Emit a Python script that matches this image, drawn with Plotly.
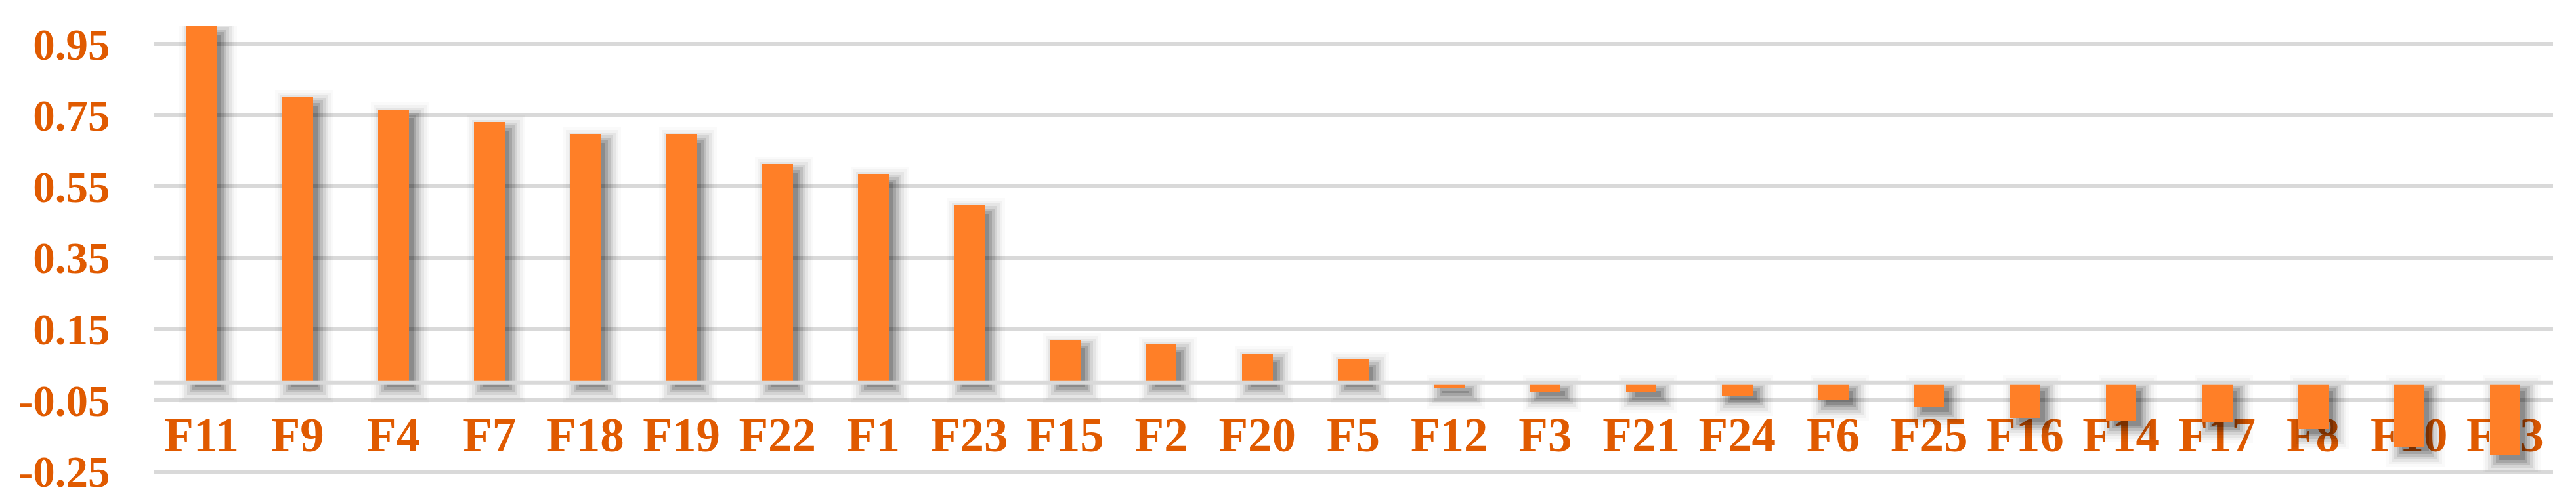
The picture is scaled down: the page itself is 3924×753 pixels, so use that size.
import plotly.graph_objects as go

categories = ["F11", "F9", "F4", "F7", "F18", "F19", "F22", "F1", "F23", "F15", "F2", "F20", "F5",
              "F12", "F3", "F21", "F24", "F6", "F25", "F16", "F14", "F17", "F8", "F10", "F13"]
values = [1.000, 0.801, 0.767, 0.732, 0.697, 0.697, 0.614, 0.586, 0.498, 0.119, 0.108, 0.081, 0.066,
          -0.016, -0.025, -0.028, -0.036, -0.049, -0.069, -0.099, -0.108, -0.112, -0.131, -0.181, -0.205]
y_tickvals = [-0.25, -0.05, 0.15, 0.35, 0.55, 0.75, 0.95]
y_ticktext = ["-0.25", "-0.05", "0.15", "0.35", "0.55", "0.75", "0.95"]

W, H = 3924, 753
ML, MR, MT, MB = 226, 43, 32, 41
Y_RANGE = [-0.25, 1.0]
BAR_W = 0.32
BAR_COLOR = "#FF7F27"
TEXT_COLOR = "#E05A00"
GRID_COLOR = "#D9D9D9"
FONT = "Liberation Serif"

plot_w = W - ML - MR
plot_h = H - MT - MB
px_x = len(categories) / plot_w
px_y = (Y_RANGE[1] - Y_RANGE[0]) / plot_h

fig = go.Figure()

# soft drop shadow built from the same data (translucent, expanding layers)
shadow_dx, shadow_dy = 10, 10
for e, a in [(-3, 0.16), (1, 0.13), (5, 0.10), (9, 0.07), (13, 0.05), (17, 0.03), (21, 0.02)]:
    lo = [min(0, v) - (shadow_dy + e) * px_y for v in values]
    hi = [max(0, v) - (shadow_dy - e) * px_y for v in values]
    fig.add_trace(go.Bar(
        x=categories, y=[h - l for h, l in zip(hi, lo)], base=lo,
        offset=-BAR_W / 2 + (shadow_dx - e) * px_x, width=BAR_W + 2 * e * px_x,
        marker=dict(color=f"rgba(0,0,0,{a})", line=dict(width=0)),
        hoverinfo="skip", showlegend=False,
    ))

fig.add_trace(go.Bar(
    x=categories, y=values, offset=-BAR_W / 2, width=BAR_W,
    marker=dict(color=BAR_COLOR, line=dict(width=0)), showlegend=False,
))

fig.add_shape(type="line", xref="paper", yref="y", x0=0, x1=1, y0=0, y1=0,
              line=dict(color=GRID_COLOR, width=7), layer="above")

fig.update_layout(
    template="none",
    width=W, height=H,
    margin=dict(l=ML, r=MR, t=MT, b=MB, pad=0),
    paper_bgcolor="white", plot_bgcolor="white",
    barmode="overlay", bargap=0,
    font=dict(family=FONT, color=TEXT_COLOR, size=66, weight="bold"),
    xaxis=dict(
        type="category", showgrid=False, zeroline=False, showline=False,
        automargin=False,
        ticks="", tickfont=dict(size=73, family=FONT, color=TEXT_COLOR, weight="bold"),
        ticklabelstandoff=-106, layer="below traces",
        range=[-0.5, len(categories) - 0.5],
    ),
    yaxis=dict(
        range=[Y_RANGE[0] - 0.002, Y_RANGE[1]],
        tickvals=y_tickvals, ticktext=y_ticktext,
        showgrid=True, gridcolor=GRID_COLOR, gridwidth=6,
        zeroline=False, showline=False, automargin=False,
        ticks="outside", ticklen=52, tickwidth=1, tickcolor="rgba(0,0,0,0)",
        tickfont=dict(size=67, family=FONT, color=TEXT_COLOR, weight="bold"),
    ),
)

fig.write_html("out.html")
